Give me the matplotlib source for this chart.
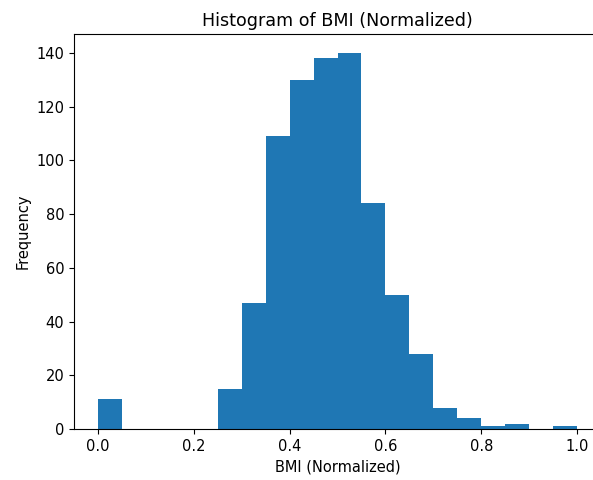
import numpy as np
import matplotlib
matplotlib.use("Agg")
import matplotlib.pyplot as plt

# bin edges and counts (20 bins over 0..1)
bin_edges = np.linspace(0, 1, 21)
counts = [11, 0, 0, 0, 0, 15, 47, 109, 130, 138,
          140, 84, 50, 28, 8, 4, 1, 2, 0, 1]

plt.rcParams["font.size"] = 10.5

fig = plt.figure(figsize=(5.93, 4.8), dpi=100)
ax = fig.add_axes([74 / 593, 51 / 480, 527 / 593, 395 / 480])

centers = (bin_edges[:-1] + bin_edges[1:]) / 2
ax.hist(centers, bins=bin_edges, weights=counts, color="#1f77b4")

ax.set_title("Histogram of BMI (Normalized)")
ax.set_xlabel("BMI (Normalized)")
ax.set_ylabel("Frequency")

fig.savefig("out.png", dpi=100)
